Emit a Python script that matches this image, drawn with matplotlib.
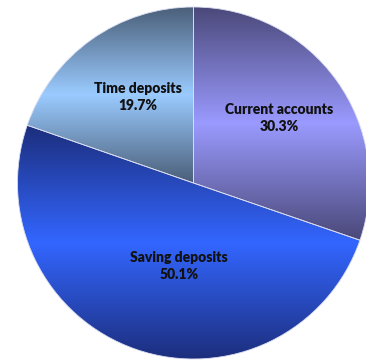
import matplotlib.pyplot as plt
import matplotlib.colors as mcolors
import numpy as np

# data
labels = ['Current accounts', 'Saving deposits', 'Time deposits']
shares = [30.3, 50.1, 19.7]

# gradient colours per slice: edge (dark) -> middle (light)
dark_colors = ['#4a4878', '#1c2e7c', '#4a5e78']
light_colors = ['#9a9aff', '#3366ff', '#9acbff']

# label centres in pixel coords (x, y from top)
label_pos = [(279, 118), (179, 266), (138, 97)]

W, H = 366, 361
CX, CY, R = 193.5, H - 183, 176

fig = plt.figure(figsize=(W / 100, H / 100), dpi=100)
ax = fig.add_axes([0, 0, 1, 1])

wedges, _ = ax.pie(shares, startangle=90, counterclock=False,
                   center=(CX, CY), radius=R, frame=True,
                   wedgeprops=dict(edgecolor='#d8dcf0', linewidth=0.6))
ax.set_xlim(0, W)
ax.set_ylim(0, H)
ax.set_aspect('equal')
ax.axis('off')

# vertical dark-light-dark gradient, clipped to each slice
for w, dk, lt in zip(wedges, dark_colors, light_colors):
    verts = w.get_patch_transform().transform(w.get_path().vertices)
    y0, y1 = verts[:, 1].min(), verts[:, 1].max()
    x0, x1 = verts[:, 0].min(), verts[:, 0].max()
    cmap = mcolors.LinearSegmentedColormap.from_list('g', [dk, lt, dk])
    grad = np.linspace(0, 1, 256).reshape(-1, 1)
    im = ax.imshow(grad, cmap=cmap, extent=(x0, x1, y0, y1), origin='lower',
                   aspect='auto', zorder=w.get_zorder() + 0.1, interpolation='bilinear')
    im.set_clip_path(w)
    w.set_facecolor('none')
    w.set_zorder(w.get_zorder() + 0.2)

for lab, val, (px, py) in zip(labels, shares, label_pos):
    ax.text(px, H - py, f'{lab}\n{val:.1f}%', ha='center', va='center',
            fontsize=10, fontweight='heavy', family='Lato', color='#111111',
            linespacing=1.3, zorder=5)

fig.savefig('out.png', dpi=100)
